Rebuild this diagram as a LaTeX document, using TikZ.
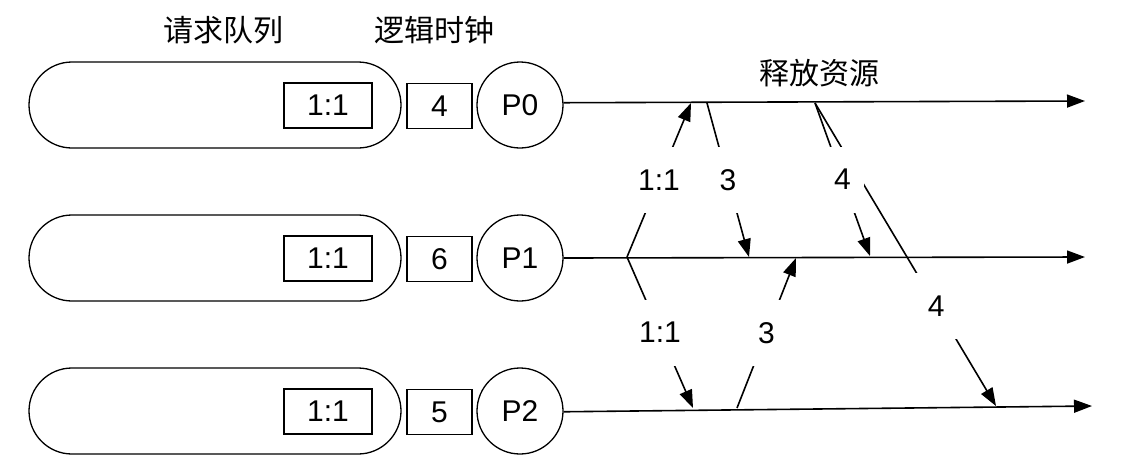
\documentclass[tikz,border=0pt]{standalone}
\usepackage{fontspec}
\setmainfont{Liberation Sans}
\newfontfamily\cjk{Noto Sans CJK SC}
\usetikzlibrary{arrows.meta}
\begin{document}
\begin{tikzpicture}[x=1pt,y=-1pt,
  every node/.style={font=\fontsize{30}{34}\selectfont},
  queue/.style={draw, line width=1.3pt, rounded corners=43pt, minimum width=372pt, minimum height=86pt, inner sep=0},
  qbox/.style={draw, line width=1.3pt, minimum width=88pt, minimum height=45pt, inner sep=0},
  cbox/.style={draw, line width=1.3pt, minimum width=65pt, minimum height=45pt, inner sep=0},
  proc/.style={draw, circle, line width=1.3pt, minimum size=86pt, inner sep=0},
  title/.style={font=\cjk\fontsize{30}{34}\selectfont},
  timeline/.style={line width=1.6pt, -{Triangle[length=18pt,width=13pt]}},
  msg/.style={line width=1.6pt, -{Triangle[length=18pt,width=13pt]}},
  lbl/.style={fill=white, minimum height=66pt, minimum width=42pt, inner sep=0}
]
\useasboundingbox (0,0) rectangle (1134,472);

% titles
\node[title] (tq) at (223,30) {请求队列};
\node[title] (tc) at (434,30) {逻辑时钟};
\node[title] (tr) at (819,73) {释放资源};

% row 0
\node[queue] (Q0) at (215,105) {};
\node[qbox] (q0) at (328,105.5) {1:1};
\node[cbox] (c0) at (439.5,106) {4};
\node[proc] (P0) at (520,105) {P0};
% row 1
\node[queue] (Q1) at (215,258) {};
\node[qbox] (q1) at (328,258.5) {1:1};
\node[cbox] (c1) at (439.5,259) {6};
\node[proc] (P1) at (520,258) {P1};
% row 2
\node[queue] (Q2) at (215,411) {};
\node[qbox] (q2) at (328,411.5) {1:1};
\node[cbox] (c2) at (439.5,412) {5};
\node[proc] (P2) at (520,411) {P2};

% timeline ends
\coordinate (e0) at (1085,101);
\coordinate (e1) at (1085,257);
\coordinate (e2) at (1092,406);
\draw[timeline] (P0.3) -- (e0);
\draw[timeline] (P1.east) -- (e1);
\draw[timeline] (P2.-1) -- (e2);

% events
\coordinate (a) at (627,257);
\coordinate (a0) at (691,103);
\coordinate (a2) at (693,408);
\coordinate (b) at (707,103);
\coordinate (b1) at (749,257);
\coordinate (c) at (737,408);
\coordinate (c1) at (796,258);
\coordinate (d) at (815,103);
\coordinate (d1) at (870,256);
\coordinate (d2) at (996,406);

\draw[msg] (a) -- node[lbl] (l1) {1:1} (a0);
\draw[msg] (a) -- node[lbl] (l2) {1:1} (a2);
\draw[msg] (b) -- node[lbl] (l3) {3} (b1);
\draw[msg] (c) -- node[lbl] (l4) {3} (c1);
\draw[msg] (d) -- node[lbl, pos=0.67] (l6) {4} (d2);
\draw[msg] (d) -- node[lbl] (l5) {4} (d1);
\end{tikzpicture}
\end{document}
